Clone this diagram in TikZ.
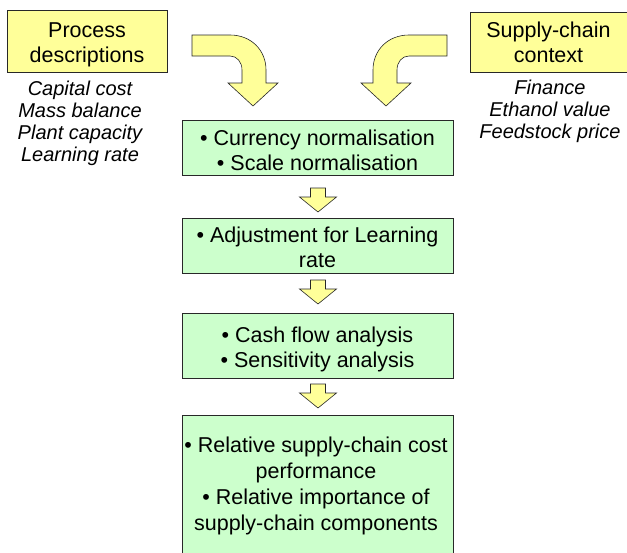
\documentclass[tikz,border=0pt]{standalone}
\usepackage{fontspec}
\setmainfont{Liberation Sans}
\usetikzlibrary{calc}
\definecolor{yfill}{RGB}{255,255,153}
\definecolor{gfill}{RGB}{204,255,204}
\definecolor{edge}{RGB}{40,40,40}
\begin{document}
\begin{tikzpicture}[x=1pt,y=-1pt,
  ybox/.style={draw=edge, fill=yfill, line width=0.7pt, inner sep=0pt},
  gbox/.style={draw=edge, fill=gfill, line width=0.7pt, inner sep=0pt, minimum width=271pt},
  txt/.style={align=center, font=\fontsize{21.5}{25}\selectfont, inner sep=0pt},
  itx/.style={align=center, font=\fontsize{20}{22}\selectfont\itshape, inner sep=0pt},
  blk/.style={fill=yfill, draw=edge, line width=0.6pt, line join=miter},
  pics/downarr/.style={code={
    \draw[blk] (-7.5,-12) -- (7.5,-12) -- (7.5,-3) -- (18.5,-3) -- (0,12)
      -- (-18.5,-3) -- (-7.5,-3) -- cycle;}}
]
\useasboundingbox (0,0) rectangle (627,552);

% top boxes (text nodes anchored at the baseline of their last line)
\node[ybox, minimum width=160pt, minimum height=62pt] (pd) at (87,41) {};
\node[txt, anchor=base] (pdt) at (87,62) {Process\\descriptions};
\node[ybox, minimum width=157pt, minimum height=60pt] (sc) at (548.5,42) {};
\node[txt, anchor=base] (sct) at (548.5,62) {Supply-chain\\context};
\node[itx, anchor=base] (pdl) at (80,161) {Capital cost\\Mass balance\\Plant capacity\\Learning rate};
\node[itx, anchor=base] (scl) at (550,138) {Finance\\Ethanol value\\Feedstock price};

% green boxes
\node[gbox, minimum height=55pt] (b1) at (317.5,147.5) {};
\node[txt, anchor=base] (b1t) at (317.5,170) {• Currency normalisation\\• Scale normalisation};
\node[gbox, minimum height=55pt] (b2) at (317.5,245.5) {};
\node[txt, anchor=base] (b2t) at (317.5,267) {• Adjustment for Learning\\rate};
\node[gbox, minimum height=65pt] (b3) at (317.5,345.5) {};
\node[txt, anchor=base] (b3t) at (317.5,367) {• Cash flow analysis\\• Sensitivity analysis};
\node[gbox, minimum height=140pt] (b4) at (317.5,485) {};
\node[txt, anchor=base, font=\fontsize{21.5}{25.7}\selectfont] (b4t) at (316,530) {• Relative supply-chain cost\\performance\\• Relative importance of\\supply-chain components};

% curved block arrows
\draw[blk] (192,35) -- (230,35) .. controls (251,35) and (266,50) .. (266,70)
  -- (266,83) -- (278,83) -- (253,106) -- (228,83) -- (242,83) -- (242,70)
  .. controls (242,62) and (237,56) .. (230,56) -- (192,56) -- cycle;
\draw[blk] (447,35) -- (409,35) .. controls (388,35) and (373,50) .. (373,70)
  -- (373,83) -- (361,83) -- (386,106) -- (411,83) -- (397,83) -- (397,70)
  .. controls (397,62) and (402,56) .. (409,56) -- (447,56) -- cycle;

% small block arrows
\pic at ($(b1.south)!0.5!(b2.north)+(0.5,3.5)$) {downarr};
\pic at ($(b2.south)!0.5!(b3.north)+(0.5,-1)$) {downarr};
\pic at ($(b3.south)!0.5!(b4.north)+(0.5,-0.5)$) {downarr};
\end{tikzpicture}
\end{document}
